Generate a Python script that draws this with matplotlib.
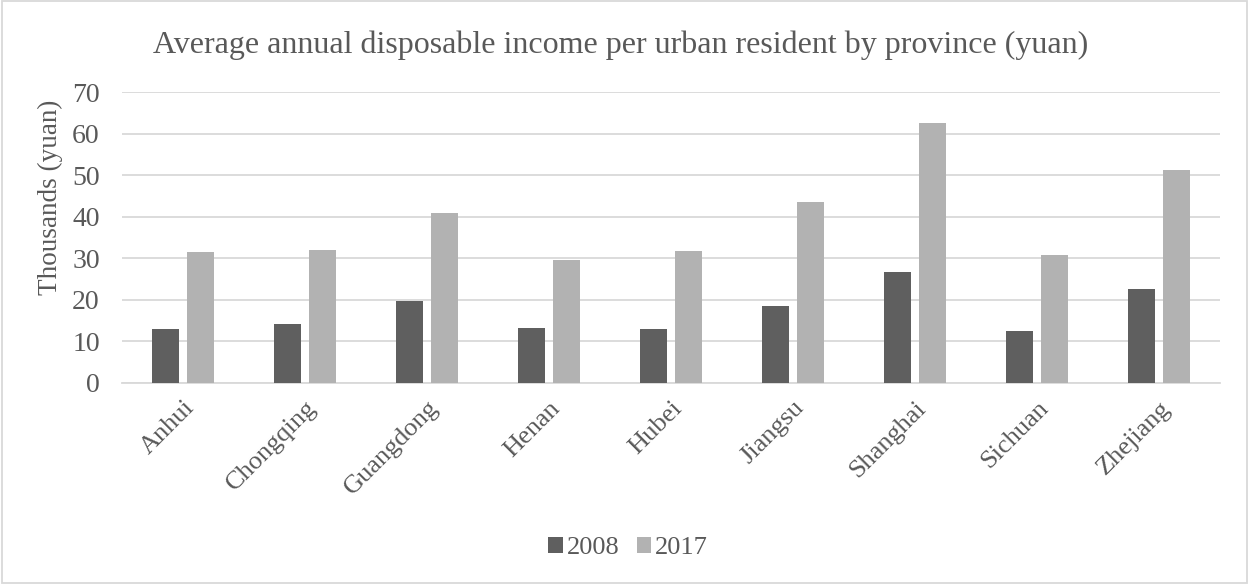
import numpy as np
import matplotlib.pyplot as plt
from matplotlib.patches import Rectangle

# data (thousands of yuan)
provinces = ['Anhui', 'Chongqing', 'Guangdong', 'Henan', 'Hubei',
             'Jiangsu', 'Shanghai', 'Sichuan', 'Zhejiang']
income_2008 = [12.9, 14.3, 19.7, 13.2, 13.1, 18.6, 26.6, 12.6, 22.6]
income_2017 = [31.6, 32.1, 40.9, 29.5, 31.8, 43.5, 62.5, 30.7, 51.2]
y_ticks = [0, 10, 20, 30, 40, 50, 60, 70]

plt.rcParams['font.family'] = ['Liberation Serif', 'DejaVu Serif']
text_color = '#595959'

fig = plt.figure(figsize=(12.49, 5.84), dpi=100)
ax = fig.add_axes([122/1249, 1-383/584, 1098/1249, 291/584])

x = np.arange(len(provinces))
w = 0.22
ax.bar(x-0.143, income_2008, w, color='#5f5f5f', label='2008', zorder=3)
ax.bar(x+0.143, income_2017, w, color='#b2b2b2', label='2017', zorder=3)

ax.set_xlim(-0.5, len(provinces)-0.5)
ax.set_ylim(0, 70)
ax.set_yticks(y_ticks)
ax.yaxis.grid(True, color='#d9d9d9', linewidth=1.3, zorder=0)
for s in ['top', 'right', 'left']:
    ax.spines[s].set_visible(False)
ax.spines['bottom'].set_color('#d9d9d9')
ax.spines['bottom'].set_linewidth(1.3)
ax.tick_params(axis='both', length=0, colors=text_color)
ax.tick_params(axis='y', pad=16, labelsize=20)
ax.set_xticks(x)
ax.set_xticklabels(provinces, rotation=45, ha='right', rotation_mode='anchor',
                   fontsize=19)
ax.tick_params(axis='x', pad=10)
ax.set_ylabel('Thousands (yuan)', fontsize=19.5, color=text_color)
ax.yaxis.set_label_coords(-0.054, 0.639)

fig.text(0.497, 1-45/584, 'Average annual disposable income per urban resident by province (yuan)',
         ha='center', va='center', fontsize=23, color=text_color)

fig.legend(loc='center', bbox_to_anchor=(0.503, 1-548/584), ncol=2, frameon=False,
           fontsize=19, labelcolor=text_color, handlelength=0.55, handleheight=0.55,
           handletextpad=0.15, columnspacing=0.65)

fig.patches.append(Rectangle((0.0015, 0.002), 0.997, 0.996, transform=fig.transFigure,
                             fill=False, edgecolor='#d9d9d9', linewidth=1.3))

fig.savefig('out.png', dpi=100)
